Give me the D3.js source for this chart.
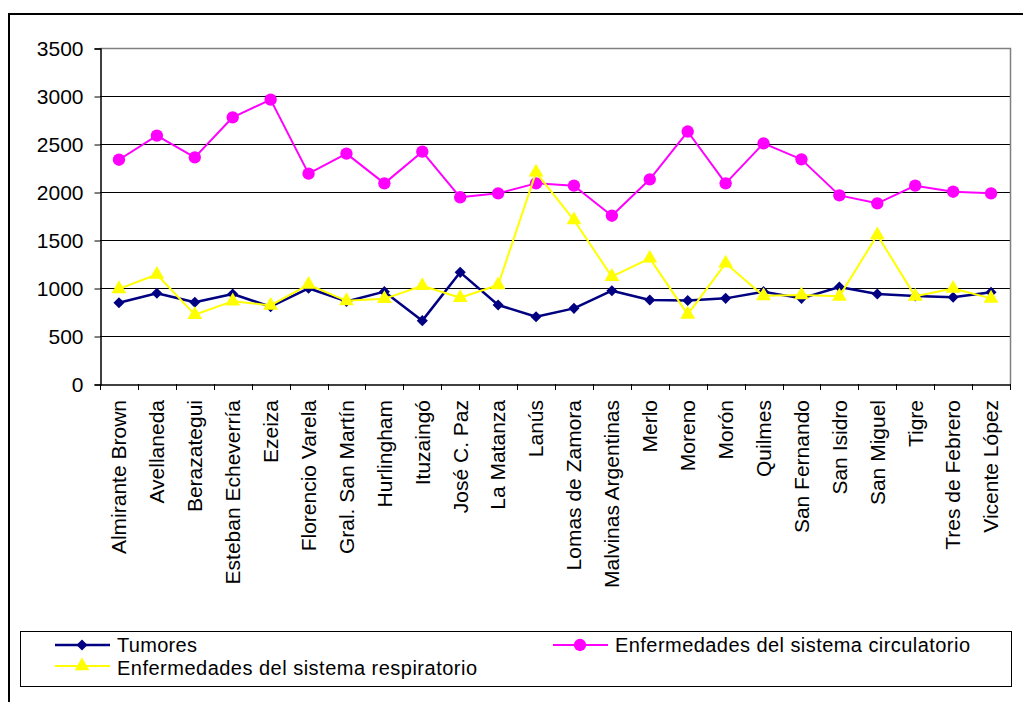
<!DOCTYPE html>
<html>
<head>
<meta charset="utf-8">
<script src="https://cdn.jsdelivr.net/npm/d3@7"></script>
<style>
  html, body { margin: 0; padding: 0; background: #fff; }
  svg { display: block; font-family: "Liberation Sans", Arial, sans-serif; }
</style>
</head>
<body>
<svg id="chart" width="1023" height="702"></svg>
<script>
const categories = ["Almirante Brown","Avellaneda","Berazategui","Esteban Echeverría","Ezeiza","Florencio Varela","Gral. San Martín","Hurlingham","Ituzaingó","José C. Paz","La Matanza","Lanús","Lomas de Zamora","Malvinas Argentinas","Merlo","Moreno","Morón","Quilmes","San Fernando","San Isidro","San Miguel","Tigre","Tres de Febrero","Vicente López"];
const tumores = [847, 945, 851, 937, 805, 997, 860, 962, 660, 1163, 823, 701, 788, 972, 875, 870, 892, 962, 892, 1010, 937, 917, 903, 955];
const circulatorio = [2336, 2587, 2361, 2778, 2962, 2191, 2400, 2090, 2420, 1945, 1986, 2090, 2066, 1753, 2132, 2630, 2090, 2507, 2340, 1965, 1882, 2066, 2003, 1986];
const respiratorio = [991, 1141, 722, 863, 818, 1036, 866, 887, 1024, 899, 1031, 2205, 1708, 1118, 1309, 725, 1257, 918, 927, 913, 1552, 913, 995, 892];
const yTicks = [0, 500, 1000, 1500, 2000, 2500, 3000, 3500];
const seriesNames = ["Tumores", "Enfermedades del sistema circulatorio", "Enfermedades del sistema respiratorio"];

const svg = d3.select("#chart");
const L = 100, R = 1010, T = 48, B = 384;
const x = d3.scaleBand().domain(categories).range([L, R]).padding(0);
const y = d3.scaleLinear().domain([0, 3500]).range([B, T]);
const cx = d => x(d) + x.bandwidth() / 2;

// outer frame (top and left visible)
svg.append("rect").attr("x", 9).attr("y", 14).attr("width", 1100).attr("height", 800)
  .attr("fill", "none").attr("stroke", "#000").attr("stroke-width", 2);

// gridlines
svg.append("g").selectAll("line").data(yTicks.filter(v => v > 0 && v < 3500)).join("line")
  .attr("x1", L).attr("x2", R).attr("y1", d => Math.round(y(d)) + 0.5).attr("y2", d => Math.round(y(d)) + 0.5)
  .attr("stroke", "#000").attr("stroke-width", 1);

// plot border top/right gray
svg.append("path").attr("d", `M${L},${T + 0.5}H${R + 0.5}V${B}`)
  .attr("fill", "none").attr("stroke", "#808080").attr("stroke-width", 1.5);

// y axis
const yAxis = d3.axisLeft(y).tickValues(yTicks).tickSize(6).tickPadding(11).tickFormat(d3.format("d"));
const gy = svg.append("g").attr("transform", `translate(${L + 0.5},0.5)`).call(yAxis);
gy.select(".domain").attr("stroke", "#000").attr("stroke-width", 1.5);
gy.selectAll(".tick line").attr("stroke", "#000");
gy.selectAll(".tick text").attr("font-size", 21).attr("fill", "#000")
  .attr("font-family", "'Liberation Sans', Arial, sans-serif");

// x axis
const xAxis = d3.axisBottom(x).tickSize(0).tickFormat("");
const gx = svg.append("g").attr("transform", `translate(0,${B + 0.5})`).call(xAxis);
gx.select(".domain").attr("stroke", "#000").attr("stroke-width", 1.5);
const bounds = categories.map(c => x(c)).concat([R]);
svg.append("g").selectAll("line").data(bounds).join("line")
  .attr("x1", d => Math.round(d) + 0.5).attr("x2", d => Math.round(d) + 0.5)
  .attr("y1", B).attr("y2", B + 6).attr("stroke", "#000").attr("stroke-width", 1);
svg.append("g").selectAll("text").data(categories).join("text")
  .attr("transform", d => `translate(${cx(d)},400) rotate(-90)`)
  .attr("text-anchor", "end").attr("dy", "0.35em")
  .attr("font-size", 21).attr("fill", "#000").text(d => d);

// series
const diamond = d3.symbol().type(d3.symbolDiamond2).size(78);
const circle = d3.symbol().type(d3.symbolCircle).size(120);
const triangle = d3.symbol().type(d3.symbolTriangle).size(95);

const series = [
  { name: seriesNames[0], values: tumores, color: "#000080", width: 2.5, sym: diamond },
  { name: seriesNames[1], values: circulatorio, color: "#FF00FF", width: 2, sym: circle },
  { name: seriesNames[2], values: respiratorio, color: "#FFFF00", width: 2, sym: triangle }
];

const line = d3.line().x((d, i) => cx(categories[i])).y(d => y(d));
series.forEach(s => {
  const g = svg.append("g");
  g.append("path").datum(s.values).attr("d", line)
    .attr("fill", "none").attr("stroke", s.color).attr("stroke-width", s.width).attr("stroke-linejoin", "round");
  g.selectAll("path.m").data(s.values).join("path").attr("class", "m")
    .attr("transform", (d, i) => `translate(${cx(categories[i])},${y(d)})`)
    .attr("d", s.sym()).attr("fill", s.color);
});

// legend
svg.append("rect").attr("x", 20.5).attr("y", 631.5).attr("width", 991).attr("height", 55)
  .attr("fill", "#fff").attr("stroke", "#000").attr("stroke-width", 1);
const legendPos = [
  { x: 55, y: 645, base: 652, len: 80 },
  { x: 553, y: 645, base: 652, len: 355 },
  { x: 55, y: 666, base: 675, len: 360 }
];
series.forEach((s, i) => {
  const p = legendPos[i];
  const g = svg.append("g");
  g.append("line").attr("x1", p.x).attr("x2", p.x + 55).attr("y1", p.y).attr("y2", p.y)
    .attr("stroke", s.color).attr("stroke-width", s.width);
  g.append("path").attr("transform", `translate(${p.x + 27},${p.y})`).attr("d", s.sym()).attr("fill", s.color);
  g.append("text").attr("x", p.x + 62).attr("y", p.base).attr("font-size", 20)
    .attr("textLength", p.len).attr("lengthAdjust", "spacing")
    .attr("fill", "#000").text(s.name);
});
</script>
</body>
</html>
